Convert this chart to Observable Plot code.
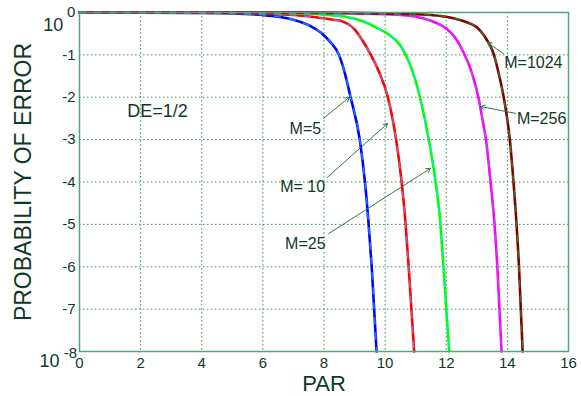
<!DOCTYPE html>
<html>
<head>
<meta charset="utf-8">
<script src="https://cdn.jsdelivr.net/npm/d3@7"></script>
<script src="https://cdn.jsdelivr.net/npm/@observablehq/plot@0.6"></script>
<style>
  html, body { margin: 0; padding: 0; background: #fff; }
  svg { font-family: "Liberation Sans", Arial, sans-serif; }
</style>
</head>
<body>
<div id="chart"></div>
<script>
// PAR (dB) and log10(probability of error) per curve
const par5 = [0, 2, 4, 5, 6, 6.5, 7, 7.5, 7.9, 8.21, 8.49, 8.65, 8.87, 9.17, 9.34, 9.45, 9.52, 9.57, 9.64, 9.72];
const pe5  = [0, -0.002, -0.01, -0.02, -0.06, -0.1, -0.17, -0.3, -0.48, -0.7, -1.0, -1.35, -2.0, -3.0, -4.0, -4.9, -5.6, -6.1, -7.0, -8.0];

const par10 = [0, 3, 5, 6, 7, 7.8, 8.3, 8.6, 9.0, 9.25, 9.52, 9.8, 10.09, 10.36, 10.54, 10.66, 10.73, 10.78, 10.86, 10.95];
const pe10  = [0, -0.002, -0.01, -0.025, -0.06, -0.12, -0.17, -0.21, -0.4, -0.65, -0.98, -1.4, -2.0, -3.0, -4.0, -4.9, -5.6, -6.1, -7.0, -8.0];

const par25 = [0, 4, 6, 7, 8, 8.7, 9.2, 9.7, 10.08, 10.5, 10.75, 10.95, 11.14, 11.43, 11.65, 11.78, 11.86, 11.92, 12.0, 12.1];
const pe25  = [0, -0.002, -0.01, -0.02, -0.05, -0.1, -0.19, -0.35, -0.5, -0.78, -1.12, -1.5, -2.0, -3.0, -4.0, -4.75, -5.5, -6.1, -7.0, -8.0];

const par256 = [0, 6, 8, 9.5, 10.5, 11.0, 11.48, 12.0, 12.3, 12.57, 12.85, 13.05, 13.18, 13.3, 13.45, 13.57, 13.63, 13.68, 13.74, 13.81];
const pe256  = [0, -0.002, -0.01, -0.03, -0.06, -0.1, -0.19, -0.38, -0.6, -0.95, -1.45, -2.0, -2.5, -3.0, -4.0, -4.9, -5.5, -6.1, -7.0, -8.0];

const par1024 = [0, 7, 9, 10.5, 11.5, 12.0, 12.5, 13.0, 13.34, 13.45, 13.56, 13.72, 13.88, 14.08, 14.2, 14.3, 14.38, 14.44, 14.5];
const pe1024  = [0, -0.002, -0.01, -0.03, -0.06, -0.1, -0.19, -0.35, -0.66, -0.8, -1.0, -1.45, -2.0, -3.0, -4.0, -5.0, -6.0, -7.0, -8.0];

const curveNames = ["M=5", "M=10", "M=25", "M=256", "M=1024"];
const curveColors = ["#0000ff", "#ff0000", "#00ff00", "#ff00ff", "#800000"];
const overlayColors = ["#2aa0e8", "#8088c8", "#00e8e8", "#9068d8", "#3a8a20"];
const xTicks = [0, 2, 4, 6, 8, 10, 12, 14, 16];
const yTicks = [-1, -2, -3, -4, -5, -6, -7];

// annotations: label, label position, arrow start, arrow end (data units)
const labels = ["M=5", "M= 10", "M=25", "M=1024", "M=256"];
const labelX = [7.39, 7.30, 7.39, 14.85, 15.12];
const labelY = [-2.74, -4.11, -5.47, -1.18, -2.50];
const arrowX1 = [7.98, 8.11, 8.15, 13.87, 14.27];
const arrowY1 = [-2.50, -3.89, -5.22, -0.97, -2.38];
const arrowX2 = [8.83, 10.08, 11.48, 13.35, 13.12];
const arrowY2 = [-2.00, -2.62, -3.68, -0.71, -2.22];

const series = [[par5, pe5], [par10, pe10], [par25, pe25], [par256, pe256], [par1024, pe1024]];
const rows = series.flatMap(([xs, ys], i) => xs.map((x, j) => ({x, y: ys[j], k: curveNames[i], i})));
const annots = labels.map((t, i) => ({t, lx: labelX[i], ly: labelY[i], x1: arrowX1[i], y1: arrowY1[i], x2: arrowX2[i], y2: arrowY2[i]}));

const textColor = "#103828";
const gridColor = "#3d9050";
const frameColor = "#4aa874";

const chart = Plot.plot({
  width: 581,
  height: 396,
  marginLeft: 79,
  marginRight: 13,
  marginTop: 12,
  marginBottom: 45,
  style: {fontFamily: '"Liberation Sans", Arial, sans-serif', background: "#fff"},
  x: {domain: [0, 16]},
  y: {domain: [-8, 0]},
  marks: [
    Plot.gridX(xTicks.slice(1, -1), {stroke: gridColor, strokeOpacity: 1, strokeWidth: 1, strokeDasharray: "1.5,2.5"}),
    Plot.gridY(yTicks, {stroke: gridColor, strokeOpacity: 1, strokeWidth: 1, strokeDasharray: "1.5,2.5"}),
    Plot.axisX(xTicks, {tickSize: 0, tickPadding: 6, fontSize: 15, fill: textColor, label: null}),
    Plot.axisY(yTicks, {tickSize: 0, tickPadding: 4, fontSize: 15, fill: textColor, label: null, tickFormat: d => "-" + Math.abs(d)}),
    Plot.text(["PAR"], {x: 8, y: -8, frameAnchor: "bottom", dy: 32, fontSize: 22, fill: textColor, lineAnchor: "middle"}),
    Plot.text(["PROBABILITY OF ERROR"], {x: 0, y: -4.0, dx: -56, dy: 0, rotate: -90, fontSize: 23, fill: textColor}),
    Plot.text(["10"], {x: -0.86, y: -0.31, fontSize: 18, fill: textColor}),
    Plot.text(["0"], {x: -0.27, y: 0.0, fontSize: 15, fill: textColor}),
    Plot.text(["10"], {x: -0.98, y: -8.22, fontSize: 18, fill: textColor}),
    Plot.text(["-8"], {x: -0.30, y: -8.05, fontSize: 15, fill: textColor}),
    Plot.line(rows, {x: "x", y: "y", z: "k", stroke: d => curveColors[d.i], strokeWidth: 2.6, curve: "monotone-x"}),
    Plot.line(rows, {x: "x", y: "y", z: "k", stroke: d => overlayColors[d.i], strokeWidth: 1.6, strokeOpacity: 0.75, strokeDasharray: "6,9", curve: "monotone-x"}),
    Plot.arrow(annots, {x1: "x1", y1: "y1", x2: "x2", y2: "y2", stroke: "#2a7a50", strokeWidth: 1, headLength: 7, bend: false}),
    Plot.text(annots, {x: "lx", y: "ly", text: "t", fontSize: 16, fill: textColor}),
    Plot.text(["DE=1/2"], {x: 2.55, y: -2.34, fontSize: 18, fill: textColor}),
    Plot.frame({stroke: frameColor, strokeWidth: 1.5})
  ]
});
document.getElementById("chart").appendChild(chart);
</script>
</body>
</html>
